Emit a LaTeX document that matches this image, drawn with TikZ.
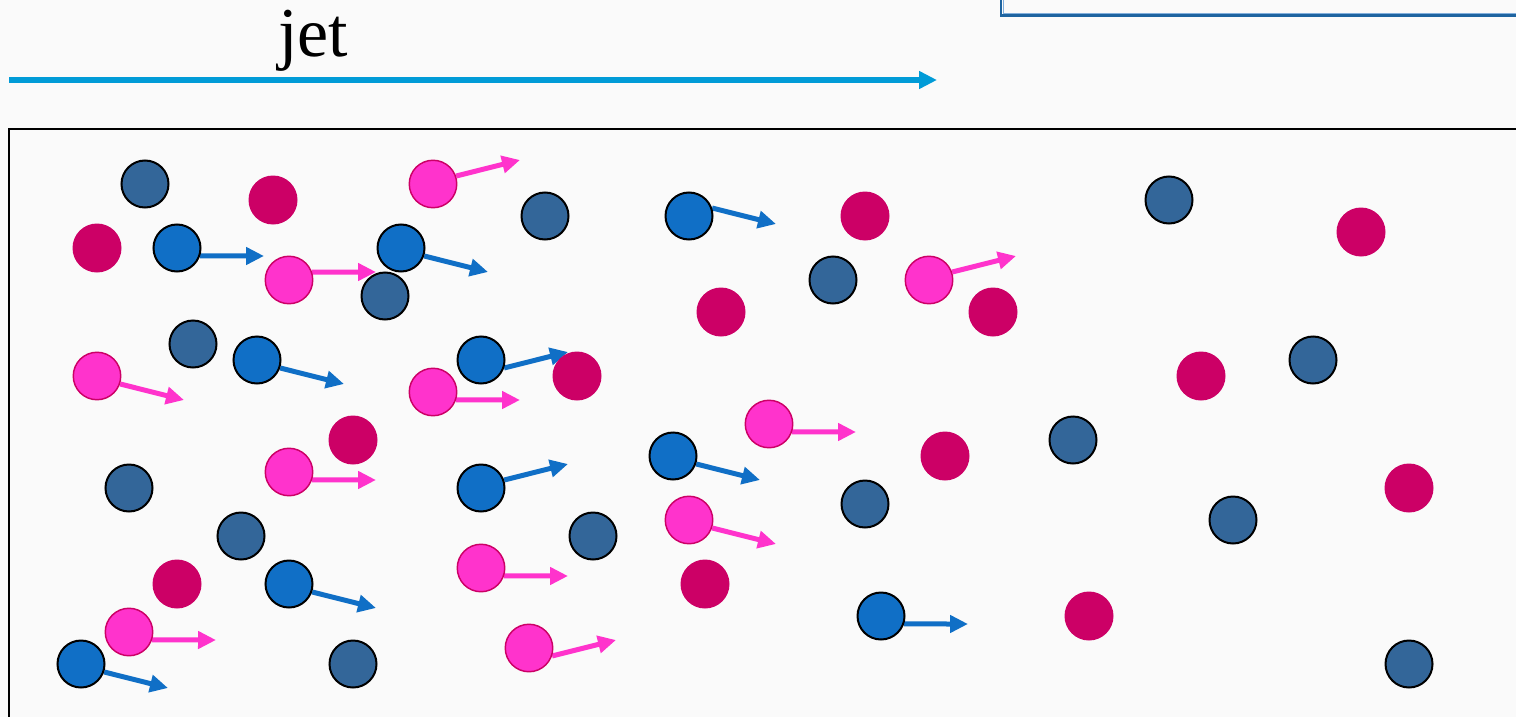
\documentclass[tikz,border=0pt]{standalone}
\usepackage{fontspec}
\setmainfont{Liberation Serif}
\usetikzlibrary{arrows.meta}
\pgfdeclarelayer{bg}
\pgfsetlayers{bg,main}
\definecolor{bgcol}{RGB}{250,250,250}
\definecolor{jetcol}{RGB}{0,155,215}
\definecolor{steelc}{RGB}{51,102,153}
\definecolor{bluec}{RGB}{16,111,198}
\definecolor{magc}{RGB}{204,0,102}
\definecolor{pinkc}{RGB}{255,51,204}
\definecolor{boxdark}{RGB}{30,100,160}
\definecolor{boxlight}{RGB}{130,175,220}
\tikzset{
  dkcirc/.style={circle,fill=steelc,draw=black,line width=1.5pt,minimum size=35.25pt,inner sep=0pt},
  bucirc/.style={circle,fill=bluec,draw=black,line width=1.5pt,minimum size=35.25pt,inner sep=0pt},
  mgcirc/.style={circle,fill=magc,minimum size=36.75pt,inner sep=0pt},
  pkcirc/.style={circle,fill=pinkc,draw=magc,line width=1.1pt,minimum size=35.6pt,inner sep=0pt},
  buarr/.style={draw=bluec,line width=3.75pt,-{Triangle[length=13.5pt,width=12.75pt]}},
  pkarr/.style={draw=pinkc,line width=3.75pt,-{Triangle[length=13.5pt,width=12.75pt]}},
  jetarr/.style={draw=jetcol,line width=4.5pt,-{Triangle[length=13.5pt,width=12.75pt]}}
}
\begin{document}
\begin{tikzpicture}[x=0.75pt,y=-0.75pt]
\useasboundingbox (0,0) rectangle (1516,717);
\begin{pgfonlayer}{bg}
\fill[bgcol] (0,0) rectangle (1516,717);
\end{pgfonlayer}
% top-right box
\draw[boxdark,line width=2.2pt] (1001,0) -- (1001,15.5) -- (1516,15.5);
\draw[boxlight,line width=0.8pt] (1003.2,0) -- (1003.2,13.3) -- (1516,13.3);
% jet label and arrow
\node[anchor=base,inner sep=0pt,font=\fontsize{52.5}{60}\selectfont] (jet) at (313,57) {jet};
\coordinate (jets) at (9,80);
\coordinate (jete) at (937,80);
\draw[jetarr] (jets) -- (jete);
% frame
\draw[black,line width=1.6pt] (1516,129) -- (9,129) -- (9,717);
% dark steel-blue circles
\node[dkcirc] (d1) at (145,184) {};
\node[dkcirc] (d2) at (545,216) {};
\node[dkcirc] (d3) at (385,296) {};
\node[dkcirc] (d4) at (833,280) {};
\node[dkcirc] (d5) at (193,344) {};
\node[dkcirc] (d6) at (1169,200) {};
\node[dkcirc] (d7) at (1313,360) {};
\node[dkcirc] (d8) at (129,488) {};
\node[dkcirc] (d9) at (241,536) {};
\node[dkcirc] (d10) at (593,536) {};
\node[dkcirc] (d11) at (865,504) {};
\node[dkcirc] (d12) at (1073,440) {};
\node[dkcirc] (d13) at (1233,520) {};
\node[dkcirc] (d14) at (353,664) {};
\node[dkcirc] (d15) at (1409,664) {};
% magenta circles
\node[mgcirc] (m1) at (273,200) {};
\node[mgcirc] (m2) at (97,248) {};
\node[mgcirc] (m3) at (865,216) {};
\node[mgcirc] (m4) at (721,312) {};
\node[mgcirc] (m5) at (993,312) {};
\node[mgcirc] (m6) at (1361,232) {};
\node[mgcirc] (m7) at (577,376) {};
\node[mgcirc] (m8) at (1201,376) {};
\node[mgcirc] (m9) at (353,440) {};
\node[mgcirc] (m10) at (945,456) {};
\node[mgcirc] (m11) at (1409,488) {};
\node[mgcirc] (m12) at (177,584) {};
\node[mgcirc] (m13) at (705,584) {};
\node[mgcirc] (m14) at (1089,616) {};
% blue circles
\node[bucirc] (b1) at (177,248) {};
\node[bucirc] (b2) at (401,248) {};
\node[bucirc] (b3) at (689,216) {};
\node[bucirc] (b4) at (257,360) {};
\node[bucirc] (b5) at (481,360) {};
\node[bucirc] (b6) at (673,456) {};
\node[bucirc] (b7) at (481,488) {};
\node[bucirc] (b8) at (289,584) {};
\node[bucirc] (b9) at (81,664) {};
\node[bucirc] (b10) at (881,616) {};
% pink circles
\node[pkcirc] (p1) at (433,184) {};
\node[pkcirc] (p2) at (289,280) {};
\node[pkcirc] (p3) at (929,280) {};
\node[pkcirc] (p4) at (97,376) {};
\node[pkcirc] (p5) at (433,392) {};
\node[pkcirc] (p6) at (769,424) {};
\node[pkcirc] (p7) at (289,472) {};
\node[pkcirc] (p8) at (689,520) {};
\node[pkcirc] (p9) at (481,568) {};
\node[pkcirc] (p10) at (129,632) {};
\node[pkcirc] (p11) at (529,648) {};
% arrow tips
\coordinate (b1t) at (264,256);
\coordinate (b2t) at (488,272);
\coordinate (b3t) at (776,224);
\coordinate (b4t) at (344,384);
\coordinate (b5t) at (568,352);
\coordinate (b6t) at (760,480);
\coordinate (b7t) at (568,464);
\coordinate (b8t) at (376,608);
\coordinate (b9t) at (168,688);
\coordinate (b10t) at (968,624);
\coordinate (p1t) at (520,160);
\coordinate (p2t) at (376,272);
\coordinate (p3t) at (1016,256);
\coordinate (p4t) at (184,400);
\coordinate (p5t) at (520,400);
\coordinate (p6t) at (856,432);
\coordinate (p7t) at (376,480);
\coordinate (p8t) at (776,544);
\coordinate (p9t) at (568,576);
\coordinate (p10t) at (216,640);
\coordinate (p11t) at (616,640);
\begin{pgfonlayer}{bg}
\draw[buarr] (b1.-19) -- (b1t);
\draw[buarr] (b2.-19) -- (b2t);
\draw[buarr] (b3.19) -- (b3t);
\draw[buarr] (b4.-19) -- (b4t);
\draw[buarr] (b5.-19) -- (b5t);
\draw[buarr] (b6.-19) -- (b6t);
\draw[buarr] (b7.19) -- (b7t);
\draw[buarr] (b8.-19) -- (b8t);
\draw[buarr] (b9.-19) -- (b9t);
\draw[buarr] (b10.-19) -- (b10t);
\draw[pkarr] (p1.19) -- (p1t);
\draw[pkarr] (p2.19) -- (p2t);
\draw[pkarr] (p3.19) -- (p3t);
\draw[pkarr] (p4.-19) -- (p4t);
\draw[pkarr] (p5.-19) -- (p5t);
\draw[pkarr] (p6.-19) -- (p6t);
\draw[pkarr] (p7.-19) -- (p7t);
\draw[pkarr] (p8.-19) -- (p8t);
\draw[pkarr] (p9.-19) -- (p9t);
\draw[pkarr] (p10.-19) -- (p10t);
\draw[pkarr] (p11.-19) -- (p11t);
\end{pgfonlayer}
\end{tikzpicture}
\end{document}
